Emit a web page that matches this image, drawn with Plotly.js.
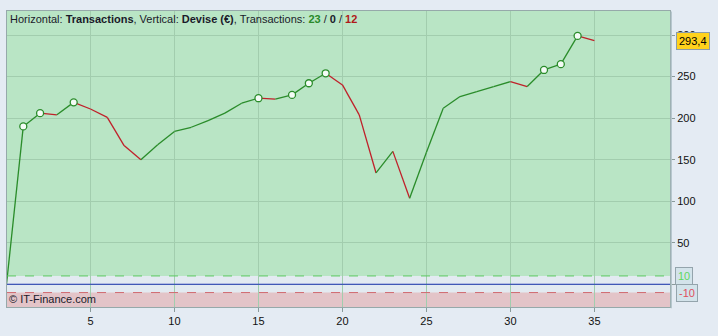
<!DOCTYPE html>
<html>
<head>
<meta charset="utf-8">
<script src="https://cdn.plot.ly/plotly-3.0.1.min.js"></script>
<style>
html,body{margin:0;padding:0;background:#e4ebf3;}
#chart{width:718px;height:336px;}
</style>
</head>
<body>
<div id="chart"></div>
<script>
// Data
const transactions = [0,1,2,3,4,5,6,7,8,9,10,11,12,13,14,15,16,17,18,19,20,21,22,23,24,25,26,27,28,29,30,31,32,33,34,35];
const equity = [0,190,206,204,219,211,201,167,150,168,184,189,197,206,218,224,223,228,242,254,240,204,134,160,103.5,159,212,226,232,238,244,238,258,265,299,293.4];
const lastValueLabel = "293,4";
const yTickVals = [0,50,100,150,200,250,300];
const yTickText = ["","50","100","150","200","250","300"];
const xTickVals = [5,10,15,20,25,30,35];
const upperBand = 10;
const lowerBand = -10;
const winCount = 23, flatCount = 0, lossCount = 12;

const GREEN = '#2a8c2a';
const RED = '#c0202a';
const FONT = '"Liberation Sans", Arial, sans-serif';

const traces = [];
for (let i = 0; i < equity.length - 1; i++) {
  const up = equity[i+1] >= equity[i];
  traces.push({
    x: [transactions[i], transactions[i+1]],
    y: [equity[i], equity[i+1]],
    mode: 'lines',
    line: {color: up ? GREEN : RED, width: 1.3},
    hoverinfo: 'skip',
    showlegend: false
  });
}
// new-high markers
const hx = [], hy = [];
let maxSoFar = equity[0];
for (let i = 1; i < equity.length; i++) {
  if (equity[i] > maxSoFar) { hx.push(transactions[i]); hy.push(equity[i]); maxSoFar = equity[i]; }
}
traces.push({
  x: hx, y: hy, mode: 'markers',
  marker: {size: 7, color: '#f4fbf6', line: {color: GREEN, width: 1.3}},
  hoverinfo: 'skip', showlegend: false
});

const layout = {
  width: 718, height: 336,
  margin: {l: 7, r: 48, t: 11, b: 29},
  paper_bgcolor: '#e4ebf3',
  plot_bgcolor: '#e3eaf1',
  font: {family: FONT, size: 11, color: '#111'},
  xaxis: {
    range: [0.03, 39.5],
    tickvals: xTickVals,
    ticktext: xTickVals.map(String),
    showgrid: true, gridcolor: '#a2cdae', gridwidth: 1,
    zeroline: false,
    ticks: 'outside', ticklen: 4, tickcolor: '#8a9a9a',
    showline: true, linecolor: '#96a9aa', linewidth: 1, mirror: true,
    tickfont: {size: 11, color: '#111'}
  },
  yaxis: {
    range: [-27.4, 329],
    side: 'right',
    tickvals: yTickVals,
    ticktext: yTickText,
    showgrid: true, gridcolor: '#a2cdae', gridwidth: 1,
    zeroline: false,
    ticks: 'outside', ticklen: 4, tickcolor: '#8a9a9a',
    showline: true, linecolor: '#96a9aa', linewidth: 1, mirror: true,
    tickfont: {size: 11, color: '#111'}
  },
  shapes: [
    {type: 'rect', xref: 'paper', x0: 0, x1: 1, yref: 'y', y0: upperBand, y1: 329, fillcolor: '#b9e5c5', line: {width: 0}, layer: 'below'},
    {type: 'rect', xref: 'paper', x0: 0, x1: 1, yref: 'y', y0: -27.4, y1: lowerBand, fillcolor: '#e3c4c8', line: {width: 0}, layer: 'below'},
    {type: 'line', xref: 'paper', x0: 0, x1: 1, yref: 'y', y0: upperBand, y1: upperBand, line: {color: '#5cc860', width: 1, dash: 'dash'}},
    {type: 'line', xref: 'paper', x0: 0, x1: 1, yref: 'y', y0: lowerBand, y1: lowerBand, line: {color: '#d06a70', width: 1, dash: 'dash'}},
    {type: 'line', xref: 'paper', x0: 0, x1: 1, yref: 'y', y0: 0, y1: 0, line: {color: '#2030b8', width: 1.2}},
    {type: 'line', xref: 'paper', x0: 1.002, x1: 1.002, yref: 'paper', y0: -0.004, y1: 0.998, line: {color: '#b4c4cc', width: 1.2}}
  ],
  annotations: [
    {xref: 'paper', yref: 'paper', x: 0, y: 1, xanchor: 'left', yanchor: 'top', xshift: 1, yshift: 0,
     showarrow: false, align: 'left',
     font: {family: FONT, size: 11, color: '#1a1a2a'},
     text: 'Horizontal: <b>Transactions</b>, Vertical: <b>Devise (€)</b>, Transactions: <b><span style="color:#2a8a2a">' + winCount + '</span></b> / <b>' + flatCount + '</b> / <b><span style="color:#b01a1a">' + lossCount + '</span></b>'},
    {xref: 'paper', yref: 'paper', x: 0, y: 0, xanchor: 'left', yanchor: 'bottom', xshift: 0, yshift: 0,
     showarrow: false, font: {family: FONT, size: 11, color: '#1a1a2a'}, text: '© IT-Finance.com'},
    {xref: 'paper', yref: 'y', x: 1.0092, y: equity[equity.length-1], xanchor: 'left', yanchor: 'middle',
     showarrow: false, text: lastValueLabel, font: {family: FONT, size: 11, color: '#000'},
     bgcolor: '#ffd21c', bordercolor: '#8c9ca8', borderwidth: 1, borderpad: 2},
    {xref: 'paper', yref: 'y', x: 1.0075, y: upperBand, xanchor: 'left', yanchor: 'middle',
     showarrow: false, text: String(upperBand), font: {family: FONT, size: 11, color: '#5fd85f'},
     bgcolor: '#d3e3ea', bordercolor: '#94a4ac', borderwidth: 1, borderpad: 2},
    {xref: 'paper', yref: 'y', x: 1.009, y: lowerBand, xanchor: 'left', yanchor: 'middle',
     showarrow: false, text: String(lowerBand), font: {family: FONT, size: 11, color: '#e0505e'},
     bgcolor: '#d3e3ea', bordercolor: '#94a4ac', borderwidth: 1, borderpad: 2}
  ]
};

Plotly.newPlot('chart', traces, layout, {staticPlot: true, displayModeBar: false});
</script>
</body>
</html>
